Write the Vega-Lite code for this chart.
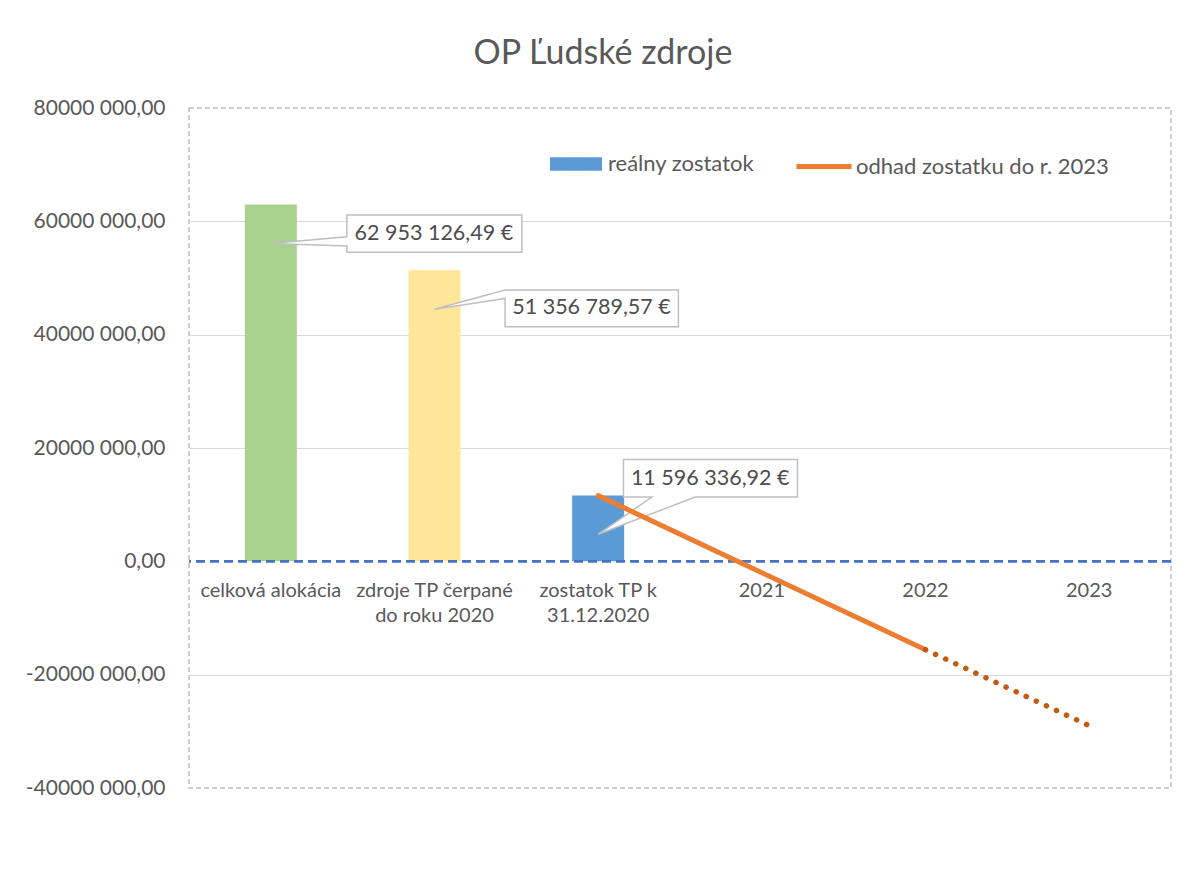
{
  "$schema": "https://vega.github.io/schema/vega-lite/v6.json",
  "width": 982,
  "height": 680,
  "autosize": {"type": "none"},
  "padding": {"left": 189, "top": 108, "right": 15, "bottom": 84},
  "background": "white",
  "title": {"text": "OP Ľudské zdroje", "font": "Lato", "fontSize": 34, "fontWeight": "normal", "color": "#595959", "anchor": "middle", "frame": "group", "dx": -77, "offset": 26},
  "datasets": {
    "stlpce": [
      {"kat": "celková alokácia", "rad": "celková alokácia", "hodnota": 62953126.49, "popis": "62 953 126,49 €"},
      {"kat": "zdroje TP čerpané do roku 2020", "rad": "zdroje TP čerpané do roku 2020", "hodnota": 51356789.57, "popis": "51 356 789,57 €"},
      {"kat": "zostatok TP k 31.12.2020", "rad": "reálny zostatok", "hodnota": 11596336.92, "popis": "11 596 336,92 €"}
    ],
    "odhad": [
      {"kat": "zostatok TP k 31.12.2020", "hodnota": 11596336.92, "rad": "odhad zostatku do r. 2023", "usek": "plný"},
      {"kat": "2021", "hodnota": -2000000, "rad": "odhad zostatku do r. 2023", "usek": "plný"},
      {"kat": "2022", "hodnota": -15600000, "rad": "odhad zostatku do r. 2023", "usek": "plný"},
      {"kat": "2022", "hodnota": -15600000, "rad": "odhad zostatku do r. 2023", "usek": "bodkovaný"},
      {"kat": "2023", "hodnota": -29000000, "rad": "odhad zostatku do r. 2023", "usek": "bodkovaný"}
    ],
    "nula": [{"hodnota": 0}]
  },
  "encoding": {
    "x": {
      "field": "kat", "type": "nominal",
      "scale": {"domain": ["celková alokácia", "zdroje TP čerpané do roku 2020", "zostatok TP k 31.12.2020", "2021", "2022", "2023"], "paddingInner": 0, "paddingOuter": 0},
      "axis": {
        "title": null, "offset": -228, "domain": false, "ticks": false, "tickSize": 0, "labelPadding": 20, "labelAngle": 0,
        "labelFontSize": 20, "labelLineHeight": 25, "labelFont": "Lato", "labelColor": "#595959", "labelLimit": 200,
        "labelExpr": "datum.label == 'zdroje TP čerpané do roku 2020' ? ['zdroje TP čerpané', 'do roku 2020'] : datum.label == 'zostatok TP k 31.12.2020' ? ['zostatok TP k', '31.12.2020'] : datum.label"
      }
    },
    "y": {
      "field": "hodnota", "type": "quantitative",
      "scale": {"domain": [-40000000, 80000000], "nice": false, "zero": false},
      "axis": {
        "title": null, "domain": false, "ticks": false, "tickSize": 0, "labelPadding": 24,
        "values": [-40000000, -20000000, 0, 20000000, 40000000, 60000000, 80000000],
        "labelExpr": "datum.value == 0 ? '0,00' : (datum.value < 0 ? '-' : '') + format(abs(datum.value) / 1000000, 'd') + '000 000,00'",
        "labelFontSize": 21, "labelFont": "Lato", "labelColor": "#595959",
        "grid": true, "gridColor": "#D9D9D9", "gridWidth": 1.2,
        "gridOpacity": {"condition": {"test": "datum.value == 0 || datum.value >= 80000000 || datum.value <= -40000000", "value": 0}, "value": 1}
      }
    }
  },
  "layer": [
    {
      "data": {"name": "stlpce"},
      "mark": {"type": "bar", "width": 52},
      "encoding": {
        "fill": {
          "field": "rad", "type": "nominal",
          "scale": {"domain": ["celková alokácia", "zdroje TP čerpané do roku 2020", "reálny zostatok"], "range": ["#A9D18E", "#FFE699", "#5B9BD5"]},
          "legend": {"values": ["reálny zostatok"], "title": null, "orient": "none", "legendX": 361, "legendY": 30, "symbolType": "M-1,-0.26H1V0.26H-1Z", "symbolSize": 2704, "symbolStrokeWidth": 0, "labelFont": "Lato", "labelFontSize": 22, "labelColor": "#595959", "labelOffset": 6, "labelLimit": 400, "padding": 0}
        }
      }
    },
    {
      "data": {"name": "nula"},
      "mark": {"type": "rule", "color": "#4472C4", "strokeWidth": 2.75, "strokeDash": [9, 5]},
      "encoding": {"x": null, "y": {"field": "hodnota", "type": "quantitative"}}
    },
    {
      "data": {"name": "stlpce"},
      "transform": [{"filter": "datum.kat == 'celková alokácia'"}],
      "mark": {"type": "point", "shape": "M76,10.4H251V47.7H76V41.4L0,39L76,32.1Z", "size": 4, "filled": true, "fill": "white", "stroke": "#BFBFBF", "strokeWidth": 1.5, "opacity": 1}
    },
    {
      "data": {"name": "stlpce"},
      "transform": [{"filter": "datum.kat == 'zdroje TP čerpané do roku 2020'"}],
      "mark": {"type": "point", "shape": "M70.6,19.8H243.9V56.5H70.6V28.1L0,39Z", "size": 4, "filled": true, "fill": "white", "stroke": "#BFBFBF", "strokeWidth": 1.5, "opacity": 1}
    },
    {
      "data": {"name": "stlpce"},
      "transform": [{"filter": "datum.kat == 'zostatok TP k 31.12.2020'"}],
      "mark": {"type": "point", "shape": "M25.3,-36H199.3V1.4H97L0,38.7L53.7,1.4H25.3Z", "size": 4, "filled": true, "fill": "white", "stroke": "#BFBFBF", "strokeWidth": 1.5, "opacity": 1}
    },
    {
      "data": {"name": "odhad"},
      "transform": [{"filter": "datum.usek == 'plný'"}],
      "mark": {"type": "line", "strokeWidth": 5, "strokeCap": "round"},
      "encoding": {
        "stroke": {
          "field": "rad", "type": "nominal",
          "scale": {"domain": ["odhad zostatku do r. 2023"], "range": ["#ED7D31"]},
          "legend": {"title": null, "orient": "none", "legendX": 605, "legendY": 28.5, "symbolType": "stroke", "symbolSize": 3025, "symbolStrokeWidth": 5, "labelFont": "Lato", "labelFontSize": 22, "labelColor": "#595959", "labelOffset": 2, "labelLimit": 400, "padding": 0}
        }
      }
    },
    {
      "data": {"name": "odhad"},
      "transform": [{"filter": "datum.usek == 'bodkovaný'"}],
      "mark": {"type": "line", "strokeWidth": 5.5, "strokeCap": "round", "strokeDash": [0.1, 11], "color": "#C55A11"}
    },
    {
      "data": {"name": "stlpce"},
      "transform": [{"filter": "datum.kat == 'celková alokácia'"}],
      "mark": {"type": "text", "dx": 163, "dy": 29, "align": "center", "baseline": "middle", "font": "Lato", "fontSize": 21.5, "color": "#4D4D4D"},
      "encoding": {"text": {"field": "popis"}}
    },
    {
      "data": {"name": "stlpce"},
      "transform": [{"filter": "datum.kat == 'zdroje TP čerpané do roku 2020'"}],
      "mark": {"type": "text", "dx": 157, "dy": 38, "align": "center", "baseline": "middle", "font": "Lato", "fontSize": 21.5, "color": "#4D4D4D"},
      "encoding": {"text": {"field": "popis"}}
    },
    {
      "data": {"name": "stlpce"},
      "transform": [{"filter": "datum.kat == 'zostatok TP k 31.12.2020'"}],
      "mark": {"type": "text", "dx": 112, "dy": -17, "align": "center", "baseline": "middle", "font": "Lato", "fontSize": 21.5, "color": "#4D4D4D"},
      "encoding": {"text": {"field": "popis"}}
    }
  ],
  "config": {
    "font": "Lato",
    "view": {"stroke": "#BFBFBF", "strokeDash": [5, 3], "strokeWidth": 1.5}
  }
}
